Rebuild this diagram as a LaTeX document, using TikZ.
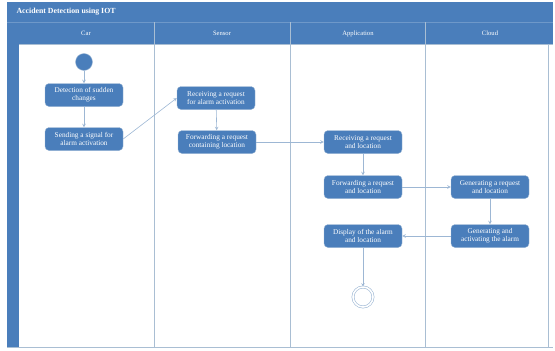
\documentclass[tikz,border=0pt]{standalone}
\usepackage{fontspec}
\setmainfont{Liberation Serif}
\usepackage{tikz}
\usetikzlibrary{shapes}
\usetikzlibrary{arrows}
\usetikzlibrary{positioning}
\definecolor{lanebleu}{HTML}{4A7EBB}
\definecolor{traitbleu}{HTML}{9DB7D4}
\definecolor{bordgris}{HTML}{A9BED3}
\tikzstyle{debut}=[circle,fill=lanebleu,draw=traitbleu,minimum size=17pt,inner sep=0pt]
\tikzstyle{fin}=[circle,draw=traitbleu,double=white,double distance=1.6pt,line width=0.6pt,minimum size=20pt,inner sep=0pt]
\tikzstyle{action}=[rectangle,rounded corners=4pt,draw=traitbleu,fill=lanebleu,text=white,
  minimum width=78pt,minimum height=23pt,inner sep=1pt,align=center,
  font=\fontsize{7.3}{8.2}\selectfont]
\tikzstyle{entete}=[text=white,font=\fontsize{6.6}{7.6}\selectfont]
\tikzstyle{suite}=[->,>=stealth,draw=traitbleu,line width=0.6pt]
\tikzstyle{couloir}=[draw=bordgris,line width=0.8pt]

\begin{document}
\begin{tikzpicture}[x=1pt,y=-1pt]
\useasboundingbox (0,0) rectangle (555,351);
%Cadre et couloirs
\fill[lanebleu] (7,2) rectangle (553,44);
\fill[lanebleu] (7,44) rectangle (19,347);
\draw[couloir] (19,44) -- (553,44);
\draw[draw=lanebleu!80!white,line width=0.5pt] (7,22) -- (553,22);
\foreach \x in {154,290,425}
  \draw[couloir] (\x,22) -- (\x,347);
\draw[couloir] (548,44) -- (548,347);
\draw[couloir] (7,347) -- (553,347);
\node[text=white,anchor=west,font=\bfseries\fontsize{7.8}{9}\selectfont] (titre) at (13,12) {Accident Detection using IOT};
\node[entete] (car) at (86,33) {Car};
\node[entete] (sensor) at (222,33) {Sensor};
\node[entete] (appli) at (358,34) {Application};
\node[entete] (cloud) at (490,33) {Cloud};
%Noeuds
\node[debut] (a) at (84,62) {};
\node[action] (b) at (84,95) {Detection of sudden\\changes};
\node[action] (c) at (84,139) {Sending a signal for\\alarm activation};
\node[action] (d) at (216,98) {Receiving a request\\for alarm activation};
\node[action] (e) at (217,142) {Forwarding a request\\containing location};
\node[action] (f) at (363,142) {Receiving a request\\and location};
\node[action] (g) at (363,187) {Forwarding a request\\and location};
\node[action] (h) at (490,187) {Generating a request\\and location};
\node[action] (i) at (490,236) {Generating and\\activating the alarm};
\node[action] (j) at (363,236) {Display of the alarm\\and location};
\node[fin] (k) at (363,297) {};
%Fleches
\draw[suite] (a) -- (b);
\draw[suite] (b) -- (c);
\draw[suite] (c.east) -- (d.west);
\draw[suite] (d) -- (e);
\draw[suite] (e) -- (f);
\draw[suite] (f) -- (g);
\draw[suite] (g) -- (h);
\draw[suite] (h) -- (i);
\draw[suite] (i) -- (j);
\draw[suite] (j) -- (k);
\end{tikzpicture}
\end{document}
